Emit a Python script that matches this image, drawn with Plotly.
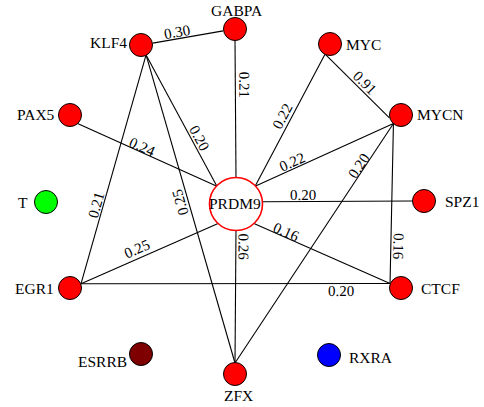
import math
import plotly.graph_objects as go

# ---------------- data ----------------
node_names = ["PRDM9", "GABPA", "KLF4", "MYC", "MYCN", "PAX5", "T", "SPZ1",
              "EGR1", "CTCF", "ESRRB", "RXRA", "ZFX"]
node_x = [236, 235, 141, 330, 401, 70, 46, 424, 70, 401, 141, 329, 235]
node_y = [204, 29, 45, 44, 115, 115, 202, 201, 288, 288, 354, 355, 374]
node_colors = ["#FFFFFF", "#FF0000", "#FF0000", "#FF0000", "#FF0000", "#FF0000",
               "#00FF00", "#FF0000", "#FF0000", "#FF0000", "#7F0000", "#0000FF",
               "#FF0000"]

edge_source = ["KLF4", "GABPA", "KLF4", "PAX5", "KLF4", "KLF4", "MYC", "MYC",
               "MYCN", "MYCN", "MYCN", "PRDM9", "PRDM9", "PRDM9", "PRDM9", "EGR1"]
edge_target = ["GABPA", "PRDM9", "PRDM9", "PRDM9", "ZFX", "EGR1", "PRDM9", "MYCN",
               "PRDM9", "ZFX", "CTCF", "SPZ1", "CTCF", "ZFX", "EGR1", "CTCF"]
edge_weight = [0.30, 0.21, 0.20, 0.24, 0.25, 0.21, 0.22, 0.91,
               0.22, 0.20, 0.16, 0.20, 0.16, 0.26, 0.25, 0.20]

# ---------------- style ----------------
FONT = "Liberation Serif, Times New Roman, serif"
hub = "PRDM9"
def radii(name):
    return (27, 25) if name == hub else (12, 11)

# attachment angle (deg, screen coords) at source / target ends of each edge
src_port = [-10, 90, 65, 51, 65, 65, 114, 114, 129, 129, 129, -5, 50, 90, 130, -23]
tgt_port = [170, -90, -135, -135, -90, -23, -45, 165, -45, -90, 204, 180, 204, -90, -23, 204]
# label placement along edge (fraction) and perpendicular offset (px)
lab_t = [0.359, 0.324, 0.66, 0.45, 0.472, 0.664, 0.498, 0.536,
         0.712, 0.19, 0.769, 0.266, 0.224, 0.138, 0.569, 0.842]
lab_d = [-6.8, -9, -7.2, -5.5, 7.6, 7.0, 8.8, -8.1,
         7.2, 5.3, -7.9, -6.5, -5.4, -8.1, 9.2, 7.0]
lab_flip = [False, False, False, False, True, True, True, False,
            True, True, False, False, False, False, True, False]

# node label offsets (px) relative to node centre
node_lab_off = {
    "PRDM9": (-1, -1), "GABPA": (2, -19), "KLF4": (-33, -3), "MYC": (33, 0),
    "MYCN": (39, -1), "PAX5": (-34, -1), "T": (-23, 0), "SPZ1": (38, 0.5),
    "EGR1": (-35.5, 0), "CTCF": (39, 0), "ESRRB": (-39, 7), "RXRA": (42, 2.5),
    "ZFX": (3, 21),
}

pos = {n: (x, y) for n, x, y in zip(node_names, node_x, node_y)}

def port(name, ang):
    cx, cy = pos[name]
    rx, ry = radii(name)
    a = math.radians(ang)
    return cx + rx * math.cos(a), cy + ry * math.sin(a)

ex, ey = [], []
annotations = []
for i, (s, t, w) in enumerate(zip(edge_source, edge_target, edge_weight)):
    ax_, ay_ = port(s, src_port[i])
    bx_, by_ = port(t, tgt_port[i])
    ex += [ax_, bx_, None]
    ey += [ay_, by_, None]
    dx, dy = bx_ - ax_, by_ - ay_
    L = math.hypot(dx, dy)
    ux, uy = dx / L, dy / L
    nx, ny = -uy, ux
    lx = ax_ + lab_t[i] * dx + lab_d[i] * nx
    ly = ay_ + lab_t[i] * dy + lab_d[i] * ny
    ang = math.degrees(math.atan2(dy, dx))
    if lab_flip[i]:
        ang -= 180
    annotations.append(dict(
        x=lx, y=ly, xref="x", yref="y", text=f"{w:.2f}", showarrow=False,
        textangle=ang, xanchor="center", yanchor="middle",
        font=dict(family=FONT, size=15, color="#000000")))

for n in node_names:
    ox, oy = node_lab_off[n]
    cx, cy = pos[n]
    annotations.append(dict(
        x=cx + ox, y=cy + oy, xref="x", yref="y", text=n, showarrow=False,
        xanchor="center", yanchor="middle",
        font=dict(family=FONT, size=15.5, color="#000000")))

fig = go.Figure()
fig.add_trace(go.Scatter(x=ex, y=ey, mode="lines",
                         line=dict(color="black", width=1.1), hoverinfo="skip",
                         showlegend=False))
sizes = [53 if n == hub else 23 for n in node_names]
line_cols = ["#FF0000" if n == hub else "#000000" for n in node_names]
line_w = [1.6 if n == hub else 1 for n in node_names]
fig.add_trace(go.Scatter(x=node_x, y=node_y, mode="markers",
                         marker=dict(size=sizes, color=node_colors, opacity=1,
                                     line=dict(color=line_cols, width=line_w)),
                         text=node_names, hoverinfo="text", showlegend=False))

fig.update_layout(
    width=484, height=407,
    margin=dict(l=0, r=0, t=0, b=0),
    paper_bgcolor="white", plot_bgcolor="white",
    xaxis=dict(range=[0, 484], visible=False, fixedrange=True),
    yaxis=dict(range=[407, 0], visible=False, fixedrange=True),
    annotations=annotations,
)
fig.write_html("out.html",
               config={"displayModeBar": False},
               post_script="document.body.style.margin='0';document.body.style.overflow='hidden';")
